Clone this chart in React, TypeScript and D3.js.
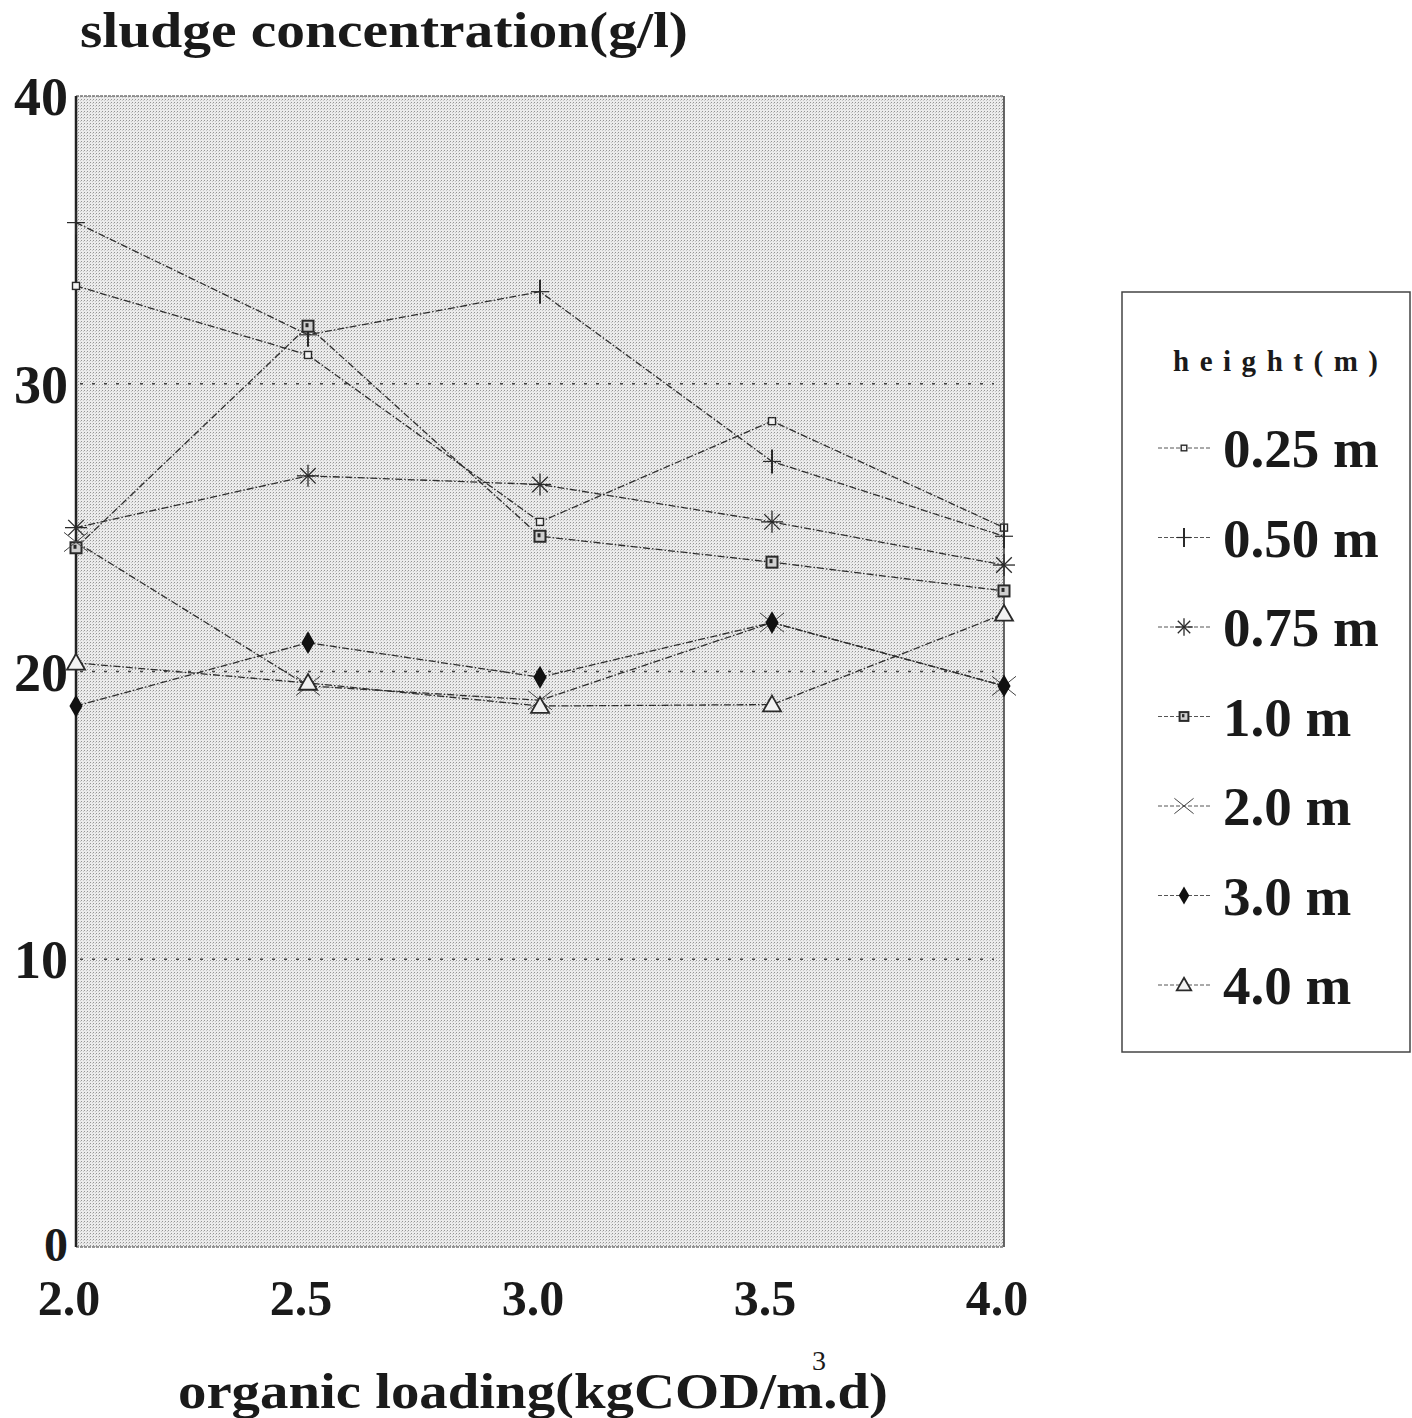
import React from "react";
import * as d3 from "d3";

// Organic loading (kgCOD/m3.d) on the x axis
const loading = [2.0, 2.5, 3.0, 3.5, 4.0];
const xTicks = ["2.0", "2.5", "3.0", "3.5", "4.0"];
const yTicks = [0, 10, 20, 30, 40];

// Sludge concentration (g/l) at each sampling height
const h025 = [33.4, 31.0, 25.2, 28.7, 25.0];
const h050 = [35.6, 31.7, 33.2, 27.3, 24.7];
const h075 = [25.0, 26.8, 26.5, 25.2, 23.7];
const h100 = [24.3, 32.0, 24.7, 23.8, 22.8];
const h200 = [24.5, 19.5, 19.0, 21.7, 19.5];
const h300 = [18.8, 21.0, 19.8, 21.7, 19.5];
const h400 = [20.3, 19.6, 18.8, 18.85, 22.0];

const seriesNames = ["0.25 m", "0.50 m", "0.75 m", "1.0 m", "2.0 m", "3.0 m", "4.0 m"];
const seriesValues = [h025, h050, h075, h100, h200, h300, h400];
const markerKinds = ["smallSquare", "plus", "asterisk", "dotSquare", "cross", "diamond", "triangle"];

const W = 1412;
const H = 1418;
const plot = { left: 76, right: 1004, top: 96, bottom: 1247 };
const serif = "'Liberation Serif', 'DejaVu Serif', serif";
const ink = "#2a2a2a";

function Marker({ kind, x, y, scale = 1 }: { kind: string; x: number; y: number; scale?: number }) {
  const s = scale;
  switch (kind) {
    case "smallSquare":
      return <rect x={x - 3.5 * s} y={y - 3.5 * s} width={7 * s} height={7 * s} fill="#f4f4f4" stroke={ink} strokeWidth={1.4} />;
    case "plus":
      return (
        <g stroke={ink} strokeWidth={2}>
          <line x1={x} y1={y - 12 * s} x2={x} y2={y + 12 * s} />
          <line x1={x - 9 * s} y1={y} x2={x + 9 * s} y2={y} strokeWidth={1.2} />
        </g>
      );
    case "asterisk": {
      const r = 11 * s;
      const arms = d3.range(8).map((i) => (i * Math.PI) / 4);
      return (
        <g stroke={ink} strokeWidth={1.3}>
          {arms.map((a, i) => (
            <line key={i} x1={x} y1={y} x2={x + r * Math.cos(a)} y2={y + r * Math.sin(a)} />
          ))}
        </g>
      );
    }
    case "dotSquare":
      return (
        <g>
          <rect x={x - 5.5 * s} y={y - 5.5 * s} width={11 * s} height={11 * s} fill="#cfcfcf" stroke={ink} strokeWidth={2} />
          <rect x={x - 2.5 * s} y={y - 3 * s} width={3 * s} height={4 * s} fill={ink} />
        </g>
      );
    case "cross": {
      const r = 12 * s;
      return (
        <g stroke="#444" strokeWidth={1}>
          <line x1={x - r} y1={y - r * 0.8} x2={x + r} y2={y + r * 0.8} />
          <line x1={x - r} y1={y + r * 0.8} x2={x + r} y2={y - r * 0.8} />
        </g>
      );
    }
    case "diamond": {
      const p = d3.symbol().type(d3.symbolDiamond).size(150 * s * s)();
      return <path d={p ?? ""} transform={`translate(${x},${y})`} fill="#111" />;
    }
    case "triangle": {
      const r = 9 * s;
      return (
        <path
          d={`M${x},${y - r} L${x + r},${y + r * 0.75} L${x - r},${y + r * 0.75} Z`}
          fill="#f2f2f2"
          stroke={ink}
          strokeWidth={1.8}
        />
      );
    }
    default:
      return null;
  }
}

export default function App() {
  const x = d3.scaleLinear().domain([2, 4]).range([plot.left, plot.right]);
  const y = d3.scaleLinear().domain([0, 40]).range([plot.bottom, plot.top]);
  const line = d3
    .line<number>()
    .x((_, i) => x(loading[i]))
    .y((d) => y(d));

  const legendX = 1122;
  const legendY = 292;
  const legendRows = seriesNames.map((_, i) => 448 + i * 89.5);

  return (
    <svg
      width={W}
      height={H}
      viewBox={`0 0 ${W} ${H}`}
      style={{ position: "absolute", left: 0, top: 0, background: "#fff" }}
    >
      <defs>
        <pattern id="stipple" width={3} height={3} patternUnits="userSpaceOnUse">
          <rect width={3} height={3} fill="#ebebeb" />
          <rect width={1} height={1} fill="#939393" />
          <rect x={2} y={1} width={1} height={1} fill="#c6c6c6" />
        </pattern>
      </defs>

      {/* plot background */}
      <rect
        x={plot.left}
        y={plot.top}
        width={plot.right - plot.left}
        height={plot.bottom - plot.top}
        fill="url(#stipple)"
      />
      {/* frame */}
      <line x1={plot.left} y1={plot.top} x2={plot.right} y2={plot.top} stroke="#777" strokeWidth={1.5} strokeDasharray="3,1" />
      <line x1={plot.left} y1={plot.bottom} x2={plot.right} y2={plot.bottom} stroke="#777" strokeWidth={1.5} strokeDasharray="3,1" />
      <line x1={plot.right} y1={plot.top} x2={plot.right} y2={plot.bottom} stroke="#333" strokeWidth={1.5} />
      <line x1={plot.left} y1={plot.top} x2={plot.left} y2={plot.bottom} stroke="#222" strokeWidth={2.5} />

      {/* horizontal dotted grid */}
      {yTicks
        .filter((t) => t > 0 && t < 40)
        .map((t) => (
          <line
            key={t}
            x1={plot.left + 4}
            x2={plot.right - 10}
            y1={y(t)}
            y2={y(t)}
            stroke="#444"
            strokeWidth={1.5}
            strokeDasharray="3,9"
          />
        ))}

      {/* series lines */}
      {seriesValues.map((vals, i) => (
        <path
          key={seriesNames[i]}
          d={line(vals) ?? ""}
          fill="none"
          stroke="#2e2e2e"
          strokeWidth={1.3}
          strokeDasharray="7,2,1.5,2"
        />
      ))}

      {/* series markers */}
      {seriesValues.map((vals, i) =>
        vals.map((v, j) => <Marker key={`${i}-${j}`} kind={markerKinds[i]} x={x(loading[j])} y={y(v)} />)
      )}

      {/* y tick labels */}
      {yTicks.map((t) => (
        <text
          key={t}
          x={68}
          y={t === 0 ? y(t) + 14 : y(t) + 19}
          textAnchor="end"
          fontFamily={serif}
          fontWeight="bold"
          fontSize={t === 0 ? 48 : 54}
          fill="#1a1a1a"
        >
          {t}
        </text>
      ))}

      {/* x tick labels */}
      {xTicks.map((t, i) => (
        <text
          key={t}
          x={x(loading[i]) - 7}
          y={1315}
          textAnchor="middle"
          fontFamily={serif}
          fontWeight="bold"
          fontSize={50}
          fill="#1a1a1a"
        >
          {t}
        </text>
      ))}

      {/* titles */}
      <text x={80} y={47} fontFamily={serif} fontWeight="bold" fontSize={50} fill="#1a1a1a" textLength={608} lengthAdjust="spacingAndGlyphs">
        sludge concentration(g/l)
      </text>
      <text x={178} y={1408} fontFamily={serif} fontWeight="bold" fontSize={50} fill="#1a1a1a" textLength={710} lengthAdjust="spacingAndGlyphs">
        organic loading(kgCOD/m.d)
      </text>
      <text x={812} y={1370} fontFamily={serif} fontSize={28} fill="#1a1a1a">
        3
      </text>

      {/* legend */}
      <rect x={legendX} y={legendY} width={288} height={760} fill="#fff" stroke="#444" strokeWidth={1.5} />
      <text
        x={1173}
        y={371}
        fontFamily={serif}
        fontWeight="bold"
        fontSize={29}
        fill="#1a1a1a"
        textLength={205}
        lengthAdjust="spacing"
      >
        height(m)
      </text>
      {seriesNames.map((name, i) => (
        <g key={name}>
          <line
            x1={1158}
            x2={1210}
            y1={legendRows[i]}
            y2={legendRows[i]}
            stroke="#555"
            strokeWidth={1}
            strokeDasharray="4,2"
          />
          <Marker kind={markerKinds[i]} x={1184} y={legendRows[i]} scale={0.8} />
          <text
            x={1223}
            y={legendRows[i] + 19}
            fontFamily={serif}
            fontWeight="bold"
            fontSize={55}
            fill="#1a1a1a"
          >
            {name}
          </text>
        </g>
      ))}
    </svg>
  );
}
